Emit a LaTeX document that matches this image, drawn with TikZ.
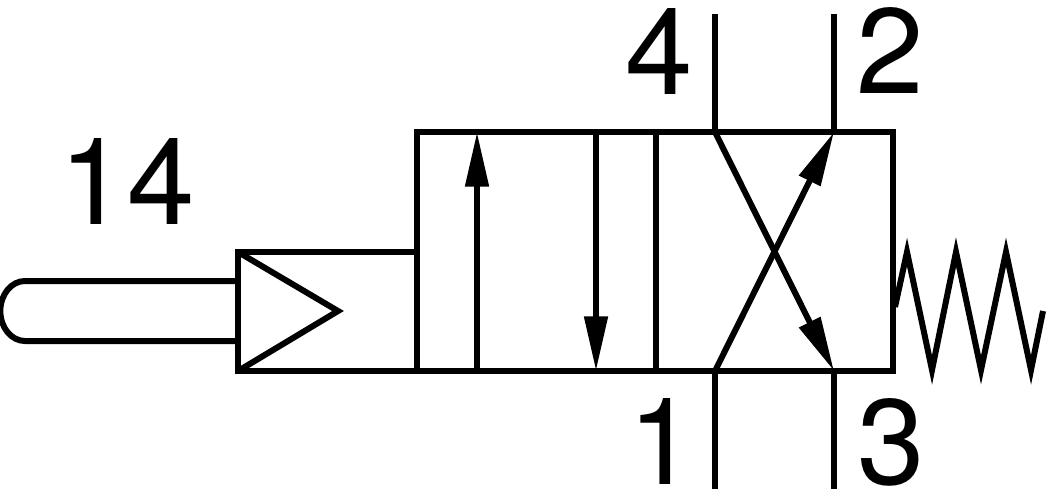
\documentclass[tikz,border=0pt]{standalone}
\usepackage{fontspec}
\setmainfont{TeX Gyre Heros}
\usetikzlibrary{arrows.meta}

\begin{document}
\begin{tikzpicture}[x=0.75pt,y=-0.75pt,line width=4.5pt]
            \tikzstyle{port label}=[inner sep=0,anchor=base,font=\fontsize{91}{91}\selectfont]
            \tikzstyle{flow}=[-{Triangle[length=41pt,width=17pt]}]
            \tikzstyle{spring line}=[line width=4.5pt,line join=miter]
            \useasboundingbox (0,0) rectangle (1056,497);
            % valve body
            \coordinate (nw) at (417,132);
            \coordinate (se) at (893,371);
            \coordinate (upA) at (477,371);
            \coordinate (upB) at (477,132);
            \coordinate (downA) at (596,132);
            \coordinate (downB) at (596,371);
            \coordinate (midA) at (656,132);
            \coordinate (midB) at (656,371);
            \coordinate (p4) at (715,132);
            \coordinate (p2) at (834,132);
            \coordinate (p1) at (715,371);
            \coordinate (p3) at (834,371);
            \coordinate (p4end) at (715,14);
            \coordinate (p2end) at (834,14);
            \coordinate (p1end) at (715,489);
            \coordinate (p3end) at (834,489);
            \draw[line join=miter] (nw) rectangle (se);
            \draw[flow] (upA) -- (upB);
            \draw[flow] (downA) -- (downB);
            \draw (midA) -- (midB);
            \draw[flow] (p1) -- (p2);
            \draw[flow] (p4) -- (p3);
            \draw (p4) -- (p4end);
            \draw (p2) -- (p2end);
            \draw (p1) -- (p1end);
            \draw (p3) -- (p3end);
            % actuator
            \coordinate (actTop) at (238,252);
            \coordinate (actTip) at (338,311);
            \coordinate (actBot) at (238,371);
            \coordinate (bodyLeft) at (417,252);
            \coordinate (bodyBot) at (417,371);
            \coordinate (pinTop) at (238,281);
            \coordinate (pinBot) at (238,341);
            \draw[line join=miter] (bodyLeft) -- (actTop) -- (actBot) -- (bodyBot);
            \draw[line join=miter] (actTop) -- (actTip) -- (actBot);
            \draw (pinTop) -- (25,281) arc[start angle=90,end angle=270,x radius=18.5pt,y radius=22.5pt] -- (pinBot);
            % spring
            \draw[spring line] (895,307) -- (907,252) -- (932,370) -- (956,252) -- (981,370) -- (1006,252) -- (1031,370) -- (1043,311);
            % labels
            \node[port label] (l14) at (127,224) {14};
            \node[port label] (l4) at (659,94) {4};
            \node[port label] (l2) at (890,93) {2};
            \node[port label] (l1) at (662,484) {1};
            \node[port label] (l3) at (891,484) {3};
\end{tikzpicture}
\end{document}
